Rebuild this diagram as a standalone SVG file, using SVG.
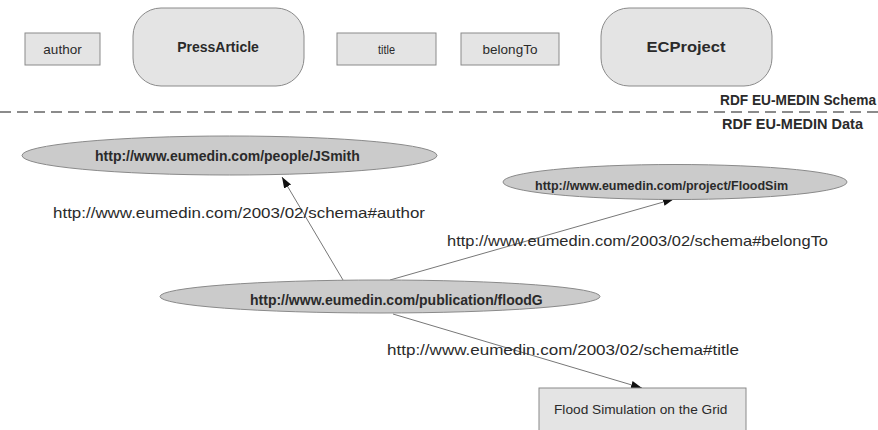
<svg xmlns="http://www.w3.org/2000/svg" width="878" height="430" viewBox="0 0 878 430">
<defs>
<style>
.box{fill:#e4e4e4;stroke:#8a8a8a;stroke-width:1}
.ell{fill:#cbcbcb;stroke:#8a8a8a;stroke-width:1}
.t{font-family:"Liberation Sans",Arial,sans-serif;fill:#2a2a2a}
.b{font-weight:bold}
.c{text-anchor:middle}
.conn{stroke:#777;stroke-width:1;fill:none;marker-end:url(#ah)}
</style>
<marker id="ah" markerWidth="12" markerHeight="10" refX="11" refY="4" orient="auto" markerUnits="userSpaceOnUse">
<path d="M0,0 L11,4 L0,8 Z" fill="#111"/>
</marker>
</defs>
<rect width="878" height="430" fill="#fff"/>

<g id="author-prop"><rect class="box" x="25" y="33" width="75" height="32"/><text class="t c" x="62.5" y="54" font-size="13.5">author</text></g>
<g id="PressArticle"><rect class="box" x="133" y="8" width="171" height="78" rx="28"/><text class="t b c" x="218" y="52" font-size="14">PressArticle</text></g>
<g id="title-prop"><rect class="box" x="337" y="33" width="99" height="32"/><text class="t c" x="386.5" y="54" font-size="13.5" textLength="17" lengthAdjust="spacingAndGlyphs">title</text></g>
<g id="belongTo-prop"><rect class="box" x="461" y="33" width="98" height="32"/><text class="t c" x="510" y="54" font-size="13.5">belongTo</text></g>
<g id="ECProject"><rect class="box" x="601" y="8" width="171" height="78" rx="28"/><text class="t b c" x="686" y="52" font-size="14" textLength="79" lengthAdjust="spacingAndGlyphs">ECProject</text></g>

<line x1="0" y1="112" x2="878" y2="112" stroke="#666" stroke-width="1.3" stroke-dasharray="11,6"/>
<text class="t b" x="720" y="105" font-size="14" textLength="156" lengthAdjust="spacingAndGlyphs">RDF EU-MEDIN Schema</text>
<text class="t b" x="722" y="129" font-size="14.5">RDF EU-MEDIN Data</text>

<g id="connectors">
<line class="conn" x1="343" y1="280" x2="282" y2="177"/>
<line class="conn" x1="390" y1="280" x2="674" y2="199"/>
<line class="conn" x1="393" y1="314" x2="642" y2="388"/>
</g>

<g id="JSmith"><ellipse class="ell" cx="229.5" cy="155.5" rx="207.5" ry="19.5"/><text class="t b" x="95" y="161" font-size="14">http://www.eumedin.com/people/JSmith</text></g>
<g id="FloodSim"><ellipse class="ell" cx="675" cy="182" rx="172" ry="17.5"/><text class="t b" x="535" y="190" font-size="12.5">http://www.eumedin.com/project/FloodSim</text></g>
<g id="floodG"><ellipse class="ell" cx="380" cy="296.5" rx="220" ry="16.5"/><text class="t b" x="250" y="305" font-size="14">http://www.eumedin.com/publication/floodG</text></g>
<g id="FloodText"><rect class="box" x="539" y="388" width="207" height="50"/><text class="t" x="554" y="414" font-size="13.7">Flood Simulation on the Grid</text></g>

<text class="t" x="53" y="218" font-size="14.5" textLength="372" lengthAdjust="spacingAndGlyphs">http://www.eumedin.com/2003/02/schema#author</text>
<text class="t" x="447" y="246" font-size="14.5" textLength="381" lengthAdjust="spacingAndGlyphs">http://www.eumedin.com/2003/02/schema#belongTo</text>
<text class="t" x="387" y="355" font-size="14.5" textLength="352" lengthAdjust="spacingAndGlyphs">http://www.eumedin.com/2003/02/schema#title</text>
</svg>
